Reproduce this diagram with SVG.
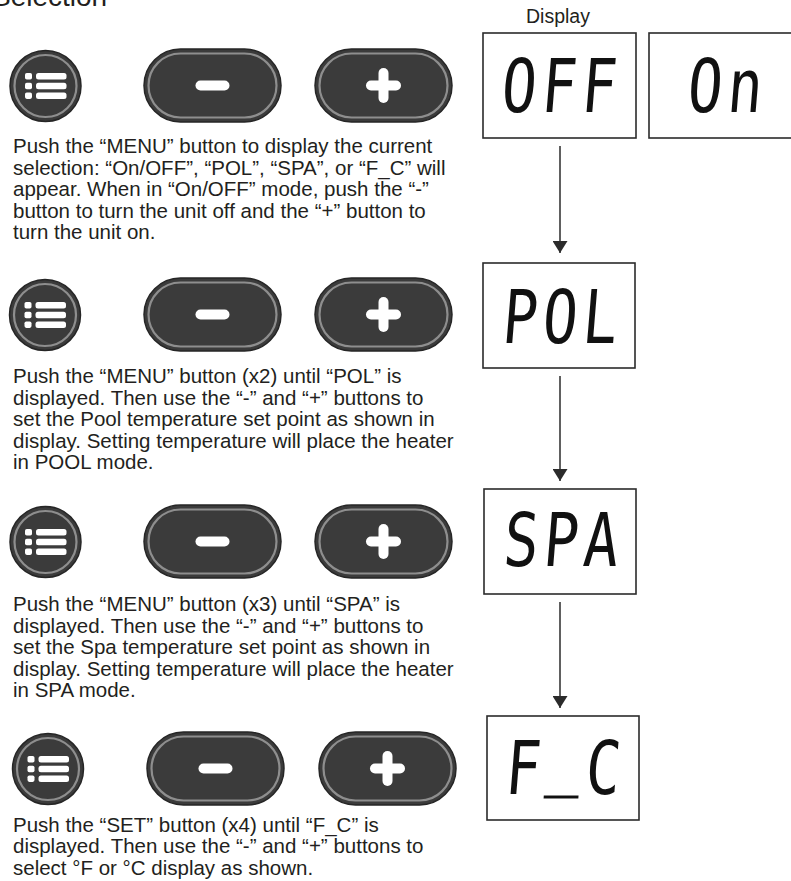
<svg xmlns="http://www.w3.org/2000/svg" xmlns:xlink="http://www.w3.org/1999/xlink" width="791" height="881" viewBox="0 0 791 881">
<style>
  .body { font-family: "Liberation Sans", Arial, sans-serif; font-size: 20.5px; fill: #231f20; }
  .head { font-family: "Liberation Sans", Arial, sans-serif; font-size: 28px; fill: #231f20; }
  .lbl { font-family: "Liberation Sans", Arial, sans-serif; font-size: 19.5px; fill: #231f20; }
  .box { fill: #ffffff; stroke: #2b2b2b; stroke-width: 1.6; }
  .seg { font-family: "DejaVu Sans Mono", monospace; font-size: 74px; fill: #111111; letter-spacing: 6.8px; }
  .conn { stroke: #2b2b2b; stroke-width: 1.5; fill: none; }
  .btn { fill: #3b3b3b; stroke: #262626; stroke-width: 1.5; }
  .ring { fill: none; stroke: #8e8e8e; stroke-width: 2.2; }
  .ico { fill: #ffffff; }
</style>
<defs>
  <marker id="arrow" viewBox="0 0 12 15" refX="12" refY="7.5" markerWidth="12" markerHeight="15" markerUnits="userSpaceOnUse" orient="auto">
    <path d="M0,0 L12,7.5 L0,15 z" fill="#2b2b2b"/>
  </marker>
  <g id="menuBtn">
    <circle class="btn" cx="0" cy="0" r="35.5"/>
    <circle class="ring" cx="0" cy="0" r="31"/>
    <rect class="ico" x="-20.5" y="-13" width="7" height="6.5" rx="1.8"/>
    <rect class="ico" x="-20.5" y="-3.3" width="7" height="6.5" rx="1.8"/>
    <rect class="ico" x="-20.5" y="6.4" width="7" height="6.5" rx="1.8"/>
    <rect class="ico" x="-9.5" y="-13" width="30.5" height="6.5" rx="2.5"/>
    <rect class="ico" x="-9.5" y="-3.3" width="30.5" height="6.5" rx="2.5"/>
    <rect class="ico" x="-9.5" y="6.4" width="30.5" height="6.5" rx="2.5"/>
  </g>
  <g id="minusBtn">
    <rect class="btn" x="0" y="0" width="137" height="73" rx="36.5"/>
    <rect class="ring" x="4.5" y="4.5" width="128" height="64" rx="32"/>
    <rect class="ico" x="51.5" y="31.5" width="34" height="10" rx="5"/>
  </g>
  <g id="plusBtn">
    <rect class="btn" x="0" y="0" width="137" height="73" rx="36.5"/>
    <rect class="ring" x="4.5" y="4.5" width="128" height="64" rx="32"/>
    <rect class="ico" x="51" y="31.5" width="35" height="10" rx="5"/>
    <rect class="ico" x="63.5" y="19" width="10" height="35" rx="5"/>
  </g>
</defs>
<rect x="0" y="0" width="791" height="881" fill="#ffffff"/>

<text class="head" x="-8" y="6">Selection</text>
<text class="lbl" x="526" y="23">Display</text>

<!-- Row 1 -->
<g id="row1">
  <use href="#menuBtn" x="45.5" y="86"/>
  <use href="#minusBtn" x="144" y="49"/>
  <use href="#plusBtn" x="315" y="49"/>
  <text class="body" x="13" y="153">
    <tspan x="13" y="153">Push the “MENU” button to display the current</tspan>
    <tspan x="13" dy="21.6">selection: “On/OFF”, “POL”, “SPA”, or “F_C” will</tspan>
    <tspan x="13" dy="21.6">appear. When in “On/OFF” mode, push the “-”</tspan>
    <tspan x="13" dy="21.6">button to turn the unit off and the “+” button to</tspan>
    <tspan x="13" dy="21.6">turn the unit on.</tspan>
  </text>
</g>

<!-- Row 2 -->
<g id="row2">
  <use href="#menuBtn" x="45" y="315"/>
  <use href="#minusBtn" x="144" y="278"/>
  <use href="#plusBtn" x="315" y="278"/>
  <text class="body" x="13" y="383">
    <tspan x="13" y="383">Push the “MENU” button (x2) until “POL” is</tspan>
    <tspan x="13" dy="21.6">displayed. Then use the “-” and “+” buttons to</tspan>
    <tspan x="13" dy="21.6">set the Pool temperature set point as shown in</tspan>
    <tspan x="13" dy="21.6">display. Setting temperature will place the heater</tspan>
    <tspan x="13" dy="21.6">in POOL mode.</tspan>
  </text>
</g>

<!-- Row 3 -->
<g id="row3">
  <use href="#menuBtn" x="45.5" y="542"/>
  <use href="#minusBtn" x="144" y="505"/>
  <use href="#plusBtn" x="315" y="505"/>
  <text class="body" x="13" y="611">
    <tspan x="13" y="611">Push the “MENU” button (x3) until “SPA” is</tspan>
    <tspan x="13" dy="21.6">displayed. Then use the “-” and “+” buttons to</tspan>
    <tspan x="13" dy="21.6">set the Spa temperature set point as shown in</tspan>
    <tspan x="13" dy="21.6">display. Setting temperature will place the heater</tspan>
    <tspan x="13" dy="21.6">in SPA mode.</tspan>
  </text>
</g>

<!-- Row 4 -->
<g id="row4">
  <use href="#menuBtn" x="48" y="769"/>
  <use href="#minusBtn" x="147" y="732"/>
  <use href="#plusBtn" x="319" y="732"/>
  <text class="body" x="13" y="832">
    <tspan x="13" y="832">Push the “SET” button (x4) until “F_C” is</tspan>
    <tspan x="13" dy="21.4">displayed. Then use the “-” and “+” buttons to</tspan>
    <tspan x="13" dy="21.4">select °F or °C display as shown.</tspan>
  </text>
</g>

<!-- Displays -->
<g id="disp-off">
  <rect class="box" x="483" y="33" width="153" height="105"/>
  <text class="seg" transform="translate(500,112) scale(0.78,1) skewX(-6)">OFF</text>
</g>
<g id="disp-on">
  <rect class="box" x="649" y="33" width="150" height="105"/>
  <text class="seg" transform="translate(686,112) scale(0.78,1) skewX(-6)">On</text>
</g>
<g id="disp-pol">
  <rect class="box" x="483" y="263" width="152" height="105"/>
  <text class="seg" transform="translate(501,343) scale(0.78,1) skewX(-6)">POL</text>
</g>
<g id="disp-spa">
  <rect class="box" x="484" y="489" width="152" height="105"/>
  <text class="seg" transform="translate(502,566) scale(0.78,1) skewX(-6)">SPA</text>
</g>
<g id="disp-fc">
  <rect class="box" x="487" y="716" width="152" height="104"/>
  <text class="seg" transform="translate(504,794) scale(0.78,1) skewX(-6)">F<tspan dy="-13">_</tspan><tspan dy="13">C</tspan></text>
</g>

<!-- Connectors -->
<g id="connectors">
  <line class="conn" x1="560" y1="146" x2="560" y2="253" marker-end="url(#arrow)"/>
  <line class="conn" x1="560" y1="376" x2="560" y2="481" marker-end="url(#arrow)"/>
  <line class="conn" x1="560" y1="602" x2="560" y2="708" marker-end="url(#arrow)"/>
</g>
</svg>
